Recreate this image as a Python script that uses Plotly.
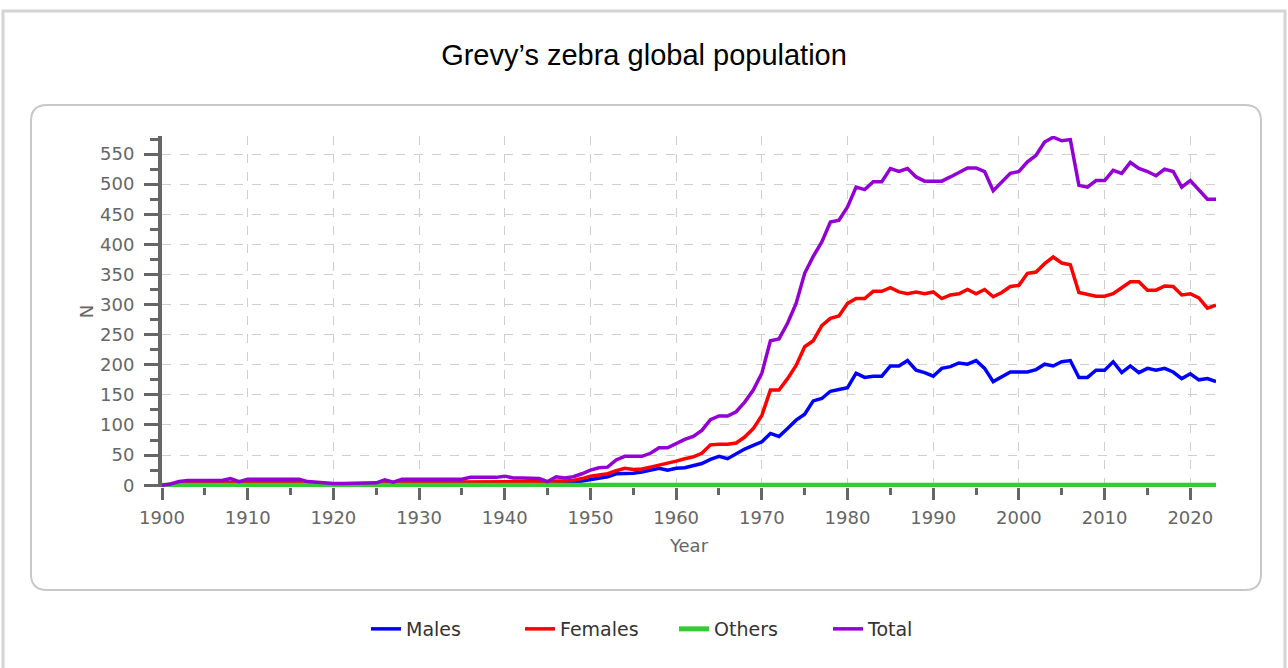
import plotly.graph_objects as go

years = list(range(1900, 2024))

males = [0, 1, 2, 3, 3, 3, 3, 3, 3, 3,
         3, 3, 3, 3, 3, 3, 3, 1, 1, 1,
         1, 1, 1, 1, 1, 1, 3, 2, 3, 3,
         3, 3, 3, 3, 3, 3, 3, 3, 3, 3,
         3, 3, 3, 3, 3, 2, 4, 4, 5, 7,
         9, 12, 14, 19, 19, 20, 22, 25, 28, 25,
         28, 29, 32, 36, 43, 48, 44, 52, 60, 66,
         72, 86, 81, 94, 108, 118, 140, 144, 156, 159,
         162, 186, 179, 181, 181, 198, 198, 207, 191, 187,
         181, 194, 197, 203, 201, 207, 194, 172, 180, 188,
         188, 188, 192, 201, 198, 205, 207, 179, 179, 191,
         191, 205, 187, 198, 187, 194, 191, 194, 188, 177,
         185, 175, 177, 172]

females = [0, 1, 3, 5, 5, 5, 5, 5, 5, 5,
           5, 5, 5, 5, 5, 5, 5, 3, 2, 2,
           2, 2, 2, 2, 2, 2, 5, 3, 5, 5,
           5, 5, 5, 5, 5, 5, 6, 6, 6, 6,
           6, 6, 6, 6, 6, 4, 7, 7, 8, 11,
           15, 17, 19, 24, 28, 26, 27, 30, 33, 36,
           40, 44, 47, 53, 67, 68, 68, 70, 80, 94,
           116, 158, 158, 177, 199, 230, 240, 265, 277, 281,
           302, 310, 310, 322, 322, 328, 321, 318, 321, 318,
           321, 310, 316, 318, 325, 318, 325, 313, 320, 330,
           332, 352, 354, 368, 379, 369, 366, 320, 317, 314,
           314, 318, 328, 338, 338, 324, 324, 331, 330, 316,
           318, 311, 294, 299]

others = [0] * 124

total = [0, 2, 6, 8, 8, 8, 8, 8, 11, 6,
         10, 10, 10, 10, 10, 10, 10, 6, 5, 3,
         3, 3, 3, 3, 3, 4, 9, 5, 10, 10,
         10, 10, 10, 10, 10, 10, 13, 13, 13, 13,
         15, 12, 12, 12, 11, 6, 14, 12, 14, 19,
         25, 29, 30, 42, 48, 48, 48, 53, 62, 62,
         69, 76, 81, 91, 109, 115, 115, 122, 138, 158,
         186, 240, 243, 269, 302, 352, 380, 404, 437, 440,
         462, 495, 491, 504, 504, 526, 521, 526, 512, 505,
         505, 505, 512, 520, 527, 527, 521, 489, 504, 518,
         521, 537, 548, 570, 578, 572, 574, 498, 495, 506,
         506, 523, 518, 536, 526, 521, 514, 525, 521, 495,
         506, 490, 475, 475]

series_names = ["Males", "Females", "Others", "Total"]
series_values = [males, females, others, total]
series_colors = ["#0000FF", "#FF0000", "#33CC33", "#9400D3"]
series_widths = [3.5, 3.5, 5, 3.5]
legend_ids = ["legend", "legend2", "legend3", "legend4"]

W, H = 1288, 668
ML, MR, MT, MB = 162, 72, 136, 181
PW = W - ML - MR
PH = H - MT - MB


def px(x):  # page pixel -> paper x
    return (x - ML) / PW


def py(y):  # page pixel -> paper y
    return (H - MB - y) / PH


fig = go.Figure()
for name, vals, col, lw, lg in zip(series_names, series_values, series_colors,
                                    series_widths, legend_ids):
    fig.add_trace(go.Scatter(x=years, y=vals, mode="lines", name=name,
                             line=dict(color=col, width=lw), legend=lg))

leg_x = [366, 520, 674, 828]
leg_font = dict(family="DejaVu Sans", size=19, color="#333333")
legend_layout = {}
for lg, lx in zip(legend_ids, leg_x):
    legend_layout[lg] = dict(x=px(lx), y=py(629), xanchor="left", yanchor="middle",
                             orientation="h", font=leg_font,
                             bgcolor="rgba(0,0,0,0)", borderwidth=0)


def rounded(x0, y0, x1, y1, r):
    def P(a, b):
        return f"{px(a)},{py(b)}"
    return (f"M {P(x0 + r, y0)} L {P(x1 - r, y0)} Q {P(x1, y0)} {P(x1, y0 + r)} "
            f"L {P(x1, y1 - r)} Q {P(x1, y1)} {P(x1 - r, y1)} "
            f"L {P(x0 + r, y1)} Q {P(x0, y1)} {P(x0, y1 - r)} "
            f"L {P(x0, y0 + r)} Q {P(x0, y0)} {P(x0 + r, y0)} Z")


shapes = [
    dict(type="rect", xref="paper", yref="paper", x0=px(3), x1=px(1285),
         y0=py(700), y1=py(11), line=dict(color="#D4D4D4", width=3),
         fillcolor="rgba(0,0,0,0)", layer="below"),
    dict(type="path", xref="paper", yref="paper", path=rounded(31, 105, 1261, 590, 16),
         line=dict(color="#C8C8C8", width=2), fillcolor="rgba(0,0,0,0)", layer="below"),
]

tick_font = dict(family="DejaVu Sans", size=18, color="#666666")

fig.update_layout(
    width=W, height=H,
    margin=dict(l=ML, r=MR, t=MT, b=MB, pad=0),
    paper_bgcolor="white", plot_bgcolor="white",
    title=dict(text="Grevy’s zebra global population", x=644 / W, xref="container",
               xanchor="center", y=1 - 55 / H, yanchor="middle",
               font=dict(family="Liberation Sans", size=29, color="#000000")),
    shapes=shapes,
    showlegend=True,
    **legend_layout,
    xaxis=dict(range=[1900, 2023], tickmode="linear", tick0=1900, dtick=10,
               ticks="outside", ticklen=12, tickwidth=3, tickcolor="#666666",
               minor=dict(dtick=5, tick0=1900, ticks="outside", ticklen=7,
                          tickwidth=3, tickcolor="#666666", showgrid=False),
               showgrid=True, gridcolor="#CFCFCF", griddash="dash", gridwidth=1,
               showline=False, zeroline=False, tickfont=tick_font,
               ticklabelstandoff=2,
               title=dict(text="Year", font=tick_font, standoff=12),
               layer="below traces"),
    yaxis=dict(range=[-3, 580], tickmode="linear", tick0=0, dtick=50,
               ticks="outside", ticklen=14, tickwidth=3, tickcolor="#666666",
               minor=dict(dtick=25, tick0=0, ticks="outside", ticklen=8,
                          tickwidth=3, tickcolor="#666666", showgrid=False),
               showgrid=True, gridcolor="#CFCFCF", griddash="dash", gridwidth=1,
               showline=True, linecolor="#666666", linewidth=4,
               zeroline=False, tickfont=tick_font, ticklabelstandoff=6,
               title=dict(text="N", font=tick_font, standoff=3),
               layer="below traces"),
)

fig.write_html("out.html",
               config={"displayModeBar": False},
               post_script="document.body.style.margin='0';"
                           "document.body.style.overflow='hidden';")
